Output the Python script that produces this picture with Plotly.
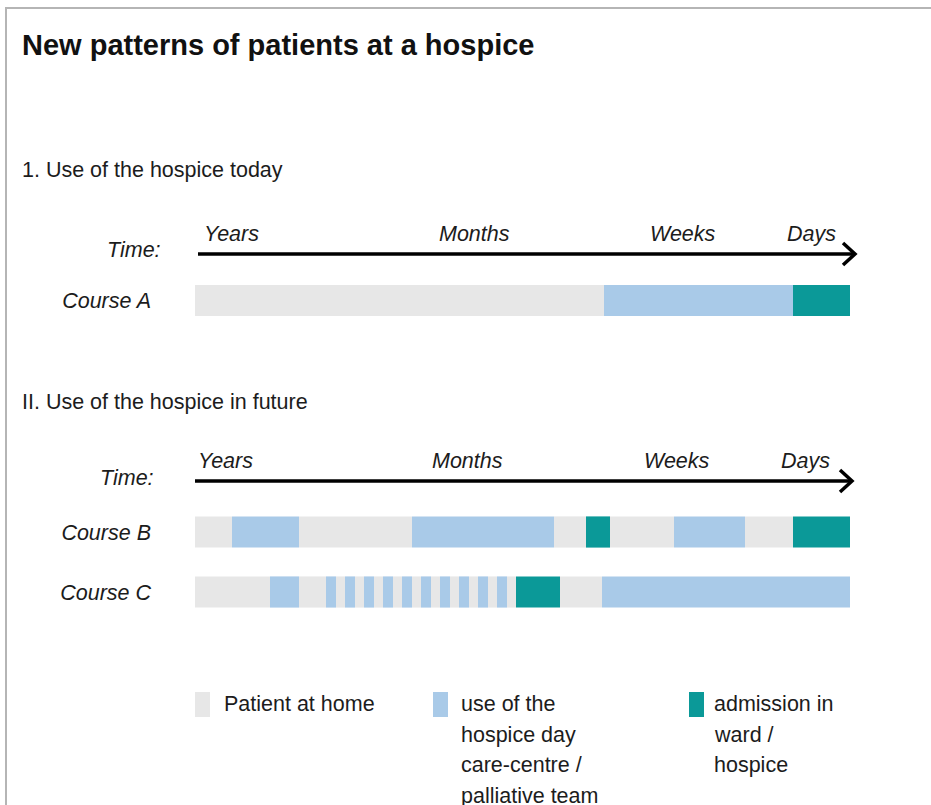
import plotly.graph_objects as go

# ---------------- data ----------------
categories = ["Patient at home",
              "use of the hospice day care-centre / palliative team",
              "admission in ward / hospice"]
category_colors = ["#e7e7e7", "#a9cae8", "#0b9998"]
legend_lines = [["Patient at home"],
                ["use of the", "hospice day", "care-centre /", "palliative team"],
                ["admission in", "ward /", "hospice"]]

title_text = "New patterns of patients at a hospice"
section_titles = ["1. Use of the hospice today", "II. Use of the hospice in future"]
time_label = "Time:"
time_ticks = ["Years", "Months", "Weeks", "Days"]

course_A_states = [0, 1, 2]
course_A_lengths = [409, 189, 57]

course_B_states = [0, 1, 0, 1, 0, 2, 0, 1, 0, 2]
course_B_lengths = [37, 67, 113, 142, 32, 24, 64, 71, 48, 57]

course_C_states = [0, 1, 0,
                   1, 0, 1, 0, 1, 0, 1, 0, 1, 0,
                   1, 0, 1, 0, 1, 0, 1, 0, 1, 0,
                   2, 0, 1]
course_C_lengths = [75, 29, 27,
                    10, 9, 10, 9, 10, 9, 10, 9, 10, 9,
                    10, 9, 10, 9, 10, 9, 10, 9, 10, 9,
                    44, 42, 249]

courses = [("Course A", course_A_states, course_A_lengths, "y"),
           ("Course B", course_B_states, course_B_lengths, "y2"),
           ("Course C", course_C_states, course_C_lengths, "y2")]

# ---------------- layout helpers ----------------
W, H = 931, 805
FONT = "Liberation Sans, Arial, Helvetica, sans-serif"
TXT = "#1c1c1c"
FS = 21.5


def X(px):
    return px / W


def Y(py):
    return 1 - py / H


fig = go.Figure()

for name, states, lengths, yax in courses:
    starts = []
    acc = 0
    for L in lengths:
        starts.append(acc)
        acc += L
    fig.add_trace(go.Bar(
        x=lengths, base=starts, y=[name] * len(lengths), orientation="h",
        marker=dict(color=[category_colors[s] for s in states], line=dict(width=0)),
        width=0.52, showlegend=False, hoverinfo="skip",
        xaxis="x" if yax == "y" else "x2", yaxis=yax,
    ))

total = sum(course_B_lengths)
axis_common = dict(showgrid=False, zeroline=False, showline=False, ticks="")
fig.update_layout(
    width=W, height=H,
    margin=dict(l=0, r=0, t=0, b=0),
    paper_bgcolor="white", plot_bgcolor="white",
    barmode="overlay",
    xaxis=dict(domain=[X(195), X(850)], range=[0, total], showticklabels=False,
               anchor="y", **axis_common),
    xaxis2=dict(domain=[X(195), X(850)], range=[0, total], showticklabels=False,
                anchor="y2", matches="x", **axis_common),
    yaxis=dict(domain=[Y(330.5), Y(270.5)], type="category",
               categoryorder="array", categoryarray=["Course A"],
               range=[-0.5, 0.5], anchor="x",
               tickfont=dict(family=FONT, size=FS, color=TXT, style="italic"),
               ticklabelstandoff=43, **axis_common),
    yaxis2=dict(domain=[Y(622), Y(502)], type="category",
                categoryorder="array", categoryarray=["Course B", "Course C"],
                range=[1.5, -0.5], anchor="x2",
                tickfont=dict(family=FONT, size=FS, color=TXT, style="italic"),
                ticklabelstandoff=43, **axis_common),
    font=dict(family=FONT, color=TXT),
)

annotations = []
shapes = []


def text(t, x, y, size=FS, xanchor="left", italic=False, bold=False, color=TXT):
    annotations.append(dict(
        text=f"<b>{t}</b>" if bold else t, x=X(x), y=Y(y), xref="paper", yref="paper",
        xanchor=xanchor, yanchor="middle", showarrow=False,
        font=dict(family=FONT, size=size, color=color, style="italic" if italic else "normal"),
    ))


# title and section headings
text(title_text, 20, 45, size=29, bold=True, color="#111111")
text(section_titles[0], 20, 170)
text(section_titles[1], 20, 402)

# time axes (arrows with labels)
time_rows = [
    dict(label_y=234, arrow_y=254, x0=198, x1=855, time_x=163, time_y=250,
         centers=[231, 474, 683, 811]),
    dict(label_y=461, arrow_y=481, x0=195, x1=852, time_x=156, time_y=478,
         centers=[225, 468, 677, 805]),
]
for row in time_rows:
    text(time_label, row["time_x"], row["time_y"], xanchor="right", italic=True)
    for lab, cx in zip(time_ticks, row["centers"]):
        text(lab, cx, row["label_y"], xanchor="center", italic=True)
    ay = row["arrow_y"]
    shapes.append(dict(type="line", xref="paper", yref="paper",
                       x0=X(row["x0"]), x1=X(row["x1"] - 1), y0=Y(ay), y1=Y(ay),
                       line=dict(color="black", width=3.5)))
    tip = row["x1"]
    shapes.append(dict(type="path", xref="paper", yref="paper",
                       path=f"M {X(tip-12)},{Y(ay-11)} L {X(tip)},{Y(ay)} L {X(tip-12)},{Y(ay+11)}",
                       line=dict(color="black", width=3.5)))

# legend
legend_x = [195, 433, 689]
legend_text_x = [222, 459, 712]
for i, cat in enumerate(categories):
    lx = legend_x[i]
    shapes.append(dict(type="rect", xref="paper", yref="paper",
                       x0=X(lx), x1=X(lx + 15), y0=Y(717), y1=Y(692),
                       fillcolor=category_colors[i], line=dict(width=0)))
    for j, line in enumerate(legend_lines[i]):
        text(line, legend_text_x[i], 704 + j * 30.7)

# frame
shapes.append(dict(type="rect", xref="paper", yref="paper",
                   x0=X(6), x1=X(960), y0=Y(840), y1=Y(8),
                   line=dict(color="#b5b5b5", width=2), fillcolor="rgba(0,0,0,0)"))

fig.update_layout(annotations=annotations, shapes=shapes)
fig.write_html("out.html", config={"displayModeBar": False},
               post_script="document.body.style.margin='0';document.body.style.overflow='hidden';")
